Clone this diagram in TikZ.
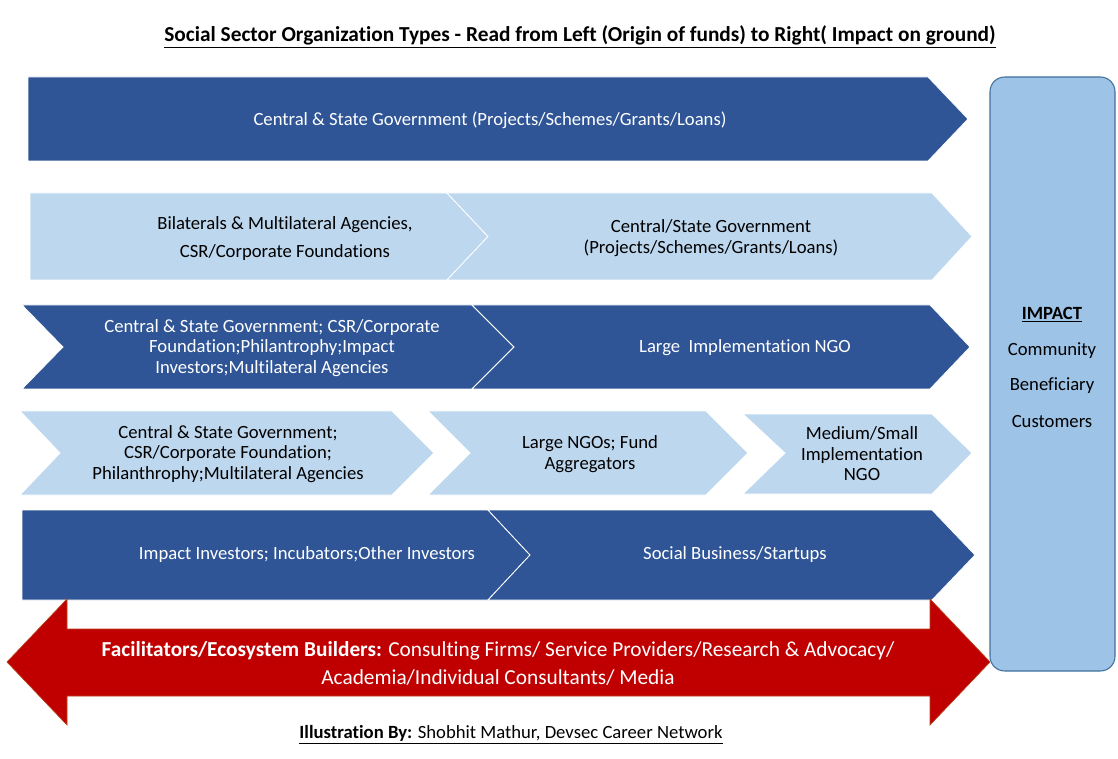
\documentclass[tikz,border=0pt]{standalone}
\usepackage{fontspec}
\setmainfont[Ligatures={NoCommon}]{Carlito}
\definecolor{dkblue}{HTML}{2F5597}
\definecolor{ltblue}{HTML}{BDD7EE}
\definecolor{impfill}{HTML}{9DC3E6}
\definecolor{impdraw}{HTML}{41719C}
\definecolor{arrred}{HTML}{C00000}
\definecolor{arredge}{HTML}{B5421A}
\newcommand{\bodyfnt}{\fontsize{14}{15.4}\selectfont}
\begin{document}
\begin{tikzpicture}[x=0.75pt,y=-0.75pt,
  darkchev/.style={fill=dkblue, draw=white, line width=0.6pt},
  lightchev/.style={fill=ltblue, draw=white, line width=0.6pt},
  wtxt/.style={text=white, align=center, font=\bodyfnt, inner sep=0pt},
  btxt/.style={text=black, align=center, font=\bodyfnt, inner sep=0pt},
  redarrow/.style={fill=arrred, draw=arredge, line width=0.5pt},
  impbox/.style={fill=impfill, draw=impdraw, line width=0.8pt, rounded corners=11pt},
  imptxt/.style={font=\fontsize{14}{16}\selectfont, inner sep=0pt}]
\useasboundingbox (0,0) rectangle (1118,759);

% title
\node (title) at (580,37) {\fontsize{16}{18}\selectfont\bfseries\underline{Social Sector Organization Types - Read from Left (Origin of funds) to Right( Impact on ground)}};

% row 1
\path[darkchev] (28,77) -- (928,77) -- (968,119) -- (928,161) -- (28,161) -- cycle;
\node[wtxt] (r1) at (490,120) {Central \& State Government (Projects/Schemes/Grants/Loans)};

% row 2
\path[lightchev] (30,193) -- (447,193) -- (488,236.5) -- (447,280) -- (30,280) -- cycle;
\path[lightchev] (447,193) -- (932,193) -- (972,236.5) -- (932,280) -- (447,280) -- (488,236.5) -- cycle;
\node[btxt] (r2a) at (285,239) {Bilaterals \& Multilateral Agencies,\\[5.6pt]CSR/Corporate Foundations};
\node[btxt] (r2b) at (711,238) {Central/State Government\\(Projects/Schemes/Grants/Loans)};

% row 3
\path[darkchev] (22,305) -- (472,305) -- (514,347) -- (472,389) -- (22,389) -- (63,347) -- cycle;
\path[darkchev] (472,305) -- (930,305) -- (970,347) -- (930,389) -- (472,389) -- (514,347) -- cycle;
\node[wtxt] (r3a) at (272,348) {Central \& State Government; CSR/Corporate\\Foundation;Philantrophy;Impact\\Investors;Multilateral Agencies};
\node[wtxt] (r3b) at (745,348) {Large\ \ Implementation NGO};

% row 4
\path[lightchev] (20,411) -- (392,411) -- (434,453) -- (392,495) -- (20,495) -- (60,453) -- cycle;
\path[lightchev] (428,411) -- (706,411) -- (748,453) -- (706,495) -- (428,495) -- (470,453) -- cycle;
\path[lightchev] (743,414) -- (932,414) -- (972,453) -- (932,494) -- (743,494) -- (785,453) -- cycle;
\node[btxt] (r4a) at (228,454) {Central \& State Government;\\CSR/Corporate Foundation;\\Philanthrophy;Multilateral Agencies};
\node[btxt] (r4b) at (590,454) {Large NGOs; Fund\\Aggregators};
\node[btxt] (r4c) at (862,454) {Medium/Small\\Implementation\\NGO};

% row 5
\path[darkchev] (22,510) -- (488,510) -- (530,555) -- (488,600) -- (22,600) -- cycle;
\path[darkchev] (488,510) -- (932,510) -- (975,555) -- (932,600) -- (488,600) -- (530,555) -- cycle;
\node[wtxt] (r5a) at (307,555) {Impact Investors; Incubators;Other Investors};
\node[wtxt] (r5b) at (735,555) {Social Business/Startups};

% red double arrow
\path[redarrow] (7,662) -- (67,599) -- (67,629) -- (930,629) -- (930,599) -- (990,662) -- (930,725) -- (930,696) -- (67,696) -- (67,725) -- cycle;
\node[text=white, align=center, font=\fontsize{16}{21}\selectfont, inner sep=0pt] (fac) at (498,663) {\textbf{Facilitators/Ecosystem Builders:} Consulting Firms/ Service Providers/Research \& Advocacy/\\Academia/Individual Consultants/ Media};

% impact box
\path[impbox] (990,77) rectangle (1115,671);
\node[imptxt] (imp) at (1052,315) {\textbf{\underline{IMPACT}}};
\node[imptxt] (comm) at (1052,351) {Community};
\node[imptxt] (ben) at (1052,386) {Beneficiary};
\node[imptxt] (cust) at (1052,422) {Customers};

% footer
\node (foot) at (511,735) {\fontsize{14}{16}\selectfont\underline{\textbf{Illustration By:} Shobhit Mathur, Devsec Career Network}};
\end{tikzpicture}
\end{document}
